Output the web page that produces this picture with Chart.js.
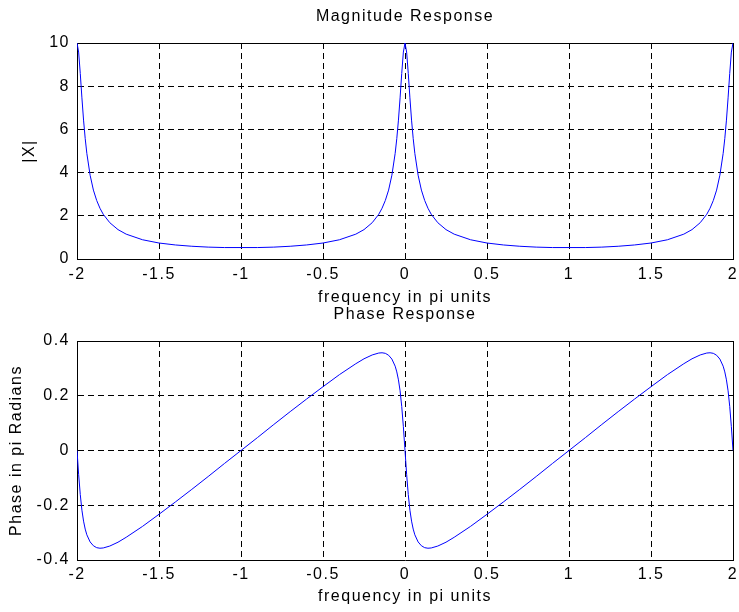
<!DOCTYPE html>
<html>
<head>
<meta charset="utf-8">
<script src="https://cdn.jsdelivr.net/npm/chart.js@4"></script>
<style>
  html, body { margin: 0; padding: 0; background: #fff; }
  .box { position: absolute; left: 0; width: 739px; }
</style>
</head>
<body>
<div class="box" style="top:0;height:307px"><canvas id="magChart" width="739" height="307"></canvas></div>
<div class="box" style="top:307px;height:305px"><canvas id="phaseChart" width="739" height="305"></canvas></div>
<script>
// frequency in pi units
const freq = [
  -2, -1.99, -1.98, -1.97, -1.96, -1.95, -1.94, -1.92, -1.9, -1.88, -1.86, -1.84, -1.8, -1.75, -1.7,
  -1.6, -1.5, -1.4, -1.3, -1.2, -1.1, -1,
  -0.9, -0.8, -0.7, -0.6, -0.5, -0.4, -0.3, -0.25, -0.2, -0.16, -0.14, -0.12, -0.1, -0.08, -0.06,
  -0.05, -0.04, -0.03, -0.02, -0.01, 0,
  0.01, 0.02, 0.03, 0.04, 0.05, 0.06, 0.08, 0.1, 0.12, 0.14, 0.16, 0.2, 0.25, 0.3, 0.4, 0.5,
  0.6, 0.7, 0.8, 0.9, 1,
  1.1, 1.2, 1.3, 1.4, 1.5, 1.6, 1.7, 1.75, 1.8, 1.84, 1.86, 1.88, 1.9, 1.92, 1.94, 1.95, 1.96,
  1.97, 1.98, 1.99, 2
];
// |X|
const magnitude = [
  10, 9.58, 8.59, 7.46, 6.43, 5.58, 4.89, 3.88, 3.19, 2.71, 2.35, 2.07, 1.68, 1.36, 1.15,
  0.89, 0.74, 0.65, 0.59, 0.55, 0.53, 0.53,
  0.53, 0.55, 0.59, 0.65, 0.74, 0.89, 1.15, 1.36, 1.68, 2.07, 2.35, 2.71, 3.19, 3.88, 4.89,
  5.58, 6.43, 7.46, 8.59, 9.58, 10,
  9.58, 8.59, 7.46, 6.43, 5.58, 4.89, 3.88, 3.19, 2.71, 2.35, 2.07, 1.68, 1.36, 1.15, 0.89, 0.74,
  0.65, 0.59, 0.55, 0.53, 0.53,
  0.53, 0.55, 0.59, 0.65, 0.74, 0.89, 1.15, 1.36, 1.68, 2.07, 2.35, 2.71, 3.19, 3.88, 4.89, 5.58, 6.43,
  7.46, 8.59, 9.58, 10
];
// phase in pi radians
const phase = [
  0, -0.087, -0.161, -0.218, -0.258, -0.287, -0.308, -0.334, -0.348, -0.355, -0.357, -0.356, -0.349, -0.335, -0.317,
  -0.277, -0.233, -0.188, -0.142, -0.095, -0.047, 0,
  0.047, 0.095, 0.142, 0.188, 0.233, 0.277, 0.317, 0.335, 0.349, 0.356, 0.357, 0.355, 0.348, 0.334, 0.308,
  0.287, 0.258, 0.218, 0.161, 0.087, 0,
  -0.087, -0.161, -0.218, -0.258, -0.287, -0.308, -0.334, -0.348, -0.355, -0.357, -0.356, -0.349, -0.335, -0.317, -0.277, -0.233,
  -0.188, -0.142, -0.095, -0.047, 0,
  0.047, 0.095, 0.142, 0.188, 0.233, 0.277, 0.317, 0.335, 0.349, 0.356, 0.357, 0.355, 0.348, 0.334, 0.308, 0.287, 0.258,
  0.218, 0.161, 0.087, 0
];

const FONT = { family: "'Liberation Sans', Arial, sans-serif", size: 16, lineHeight: 1 };

// matlab-ish wide letters
const spacing = {
  id: 'spacing',
  beforeDraw: (chart) => { chart.ctx.letterSpacing = '1.5px'; },
};

const fixed = (size) => (scale) => {
  if (scale.isHorizontal()) {
    scale.height = size;
    scale.paddingLeft = 0;
    scale.paddingRight = 0;
  } else {
    scale.width = size;
    scale.paddingTop = 0;
    scale.paddingBottom = 0;
  }
};

// -2, -1.5, -1 ... like matlab, no trailing zeros
const plain = (v) => String(Math.round(v * 100) / 100);

const makeChart = (id, values, opts) =>
  new Chart(document.getElementById(id), {
    type: 'line',
    data: {
      datasets: [{
        data: freq.map((f, i) => ({ x: f, y: values[i] })),
        borderColor: '#0000ff',
        borderWidth: 1,
        pointRadius: 0,
        tension: 0,
        fill: false,
      }],
    },
    options: {
      responsive: false,
      animation: false,
      events: [],
      layout: { padding: { left: 0, right: 6, top: 0, bottom: 0 } },
      plugins: { legend: { display: false }, tooltip: { enabled: false } },
      scales: {
        x: {
          type: 'linear',
          position: 'bottom',
          min: -2,
          max: 2,
          afterFit: fixed(opts.bottomH),
          ticks: { stepSize: 0.5, color: '#000', font: FONT, padding: opts.xTickPad, maxRotation: 0, callback: plain },
          grid: { color: '#000', lineWidth: 1, drawTicks: false },
          border: { display: true, color: '#000', width: 1, dash: [6, 4] },
          title: {
            display: true, text: 'frequency in pi units', color: '#000', font: FONT,
            padding: { top: 0, bottom: opts.xTitlePad },
          },
        },
        xTop: {
          type: 'linear',
          position: 'top',
          min: -2,
          max: 2,
          afterFit: fixed(opts.topH),
          ticks: { display: false },
          grid: { display: false },
          border: { display: true, color: '#000', width: 1 },
          title: {
            display: true, text: opts.title, color: '#000', font: FONT,
            padding: { top: opts.titlePad, bottom: 0 },
          },
        },
        y: {
          type: 'linear',
          position: 'left',
          min: opts.yMin,
          max: opts.yMax,
          afterFit: fixed(77),
          ticks: { stepSize: opts.yStep, color: '#000', font: FONT, padding: 7, callback: plain },
          grid: { color: '#000', lineWidth: 1, drawTicks: false },
          border: { display: true, color: '#000', width: 1, dash: [6, 4] },
          title: {
            display: true, text: opts.yTitle, color: '#000', font: FONT,
            padding: { top: opts.yTitlePad, bottom: 0 },
          },
        },
        yRight: {
          type: 'linear',
          position: 'right',
          min: opts.yMin,
          max: opts.yMax,
          afterFit: fixed(0),
          ticks: { display: false },
          grid: { display: false },
          border: { display: true, color: '#000', width: 1 },
        },
      },
    },
    plugins: [spacing],
  });

makeChart('magChart', magnitude, {
  title: 'Magnitude Response', titlePad: 9, topH: 43, bottomH: 48, xTitlePad: 1, xTickPad: 8,
  yMin: 0, yMax: 10, yStep: 2, yTitle: '|X|', yTitlePad: 22,
});

makeChart('phaseChart', phase, {
  title: 'Phase Response', titlePad: 0, topH: 34, bottomH: 52, xTitlePad: 7, xTickPad: 7,
  yMin: -0.4, yMax: 0.4, yStep: 0.2, yTitle: 'Phase in pi Radians', yTitlePad: 9,
});
</script>
</body>
</html>
